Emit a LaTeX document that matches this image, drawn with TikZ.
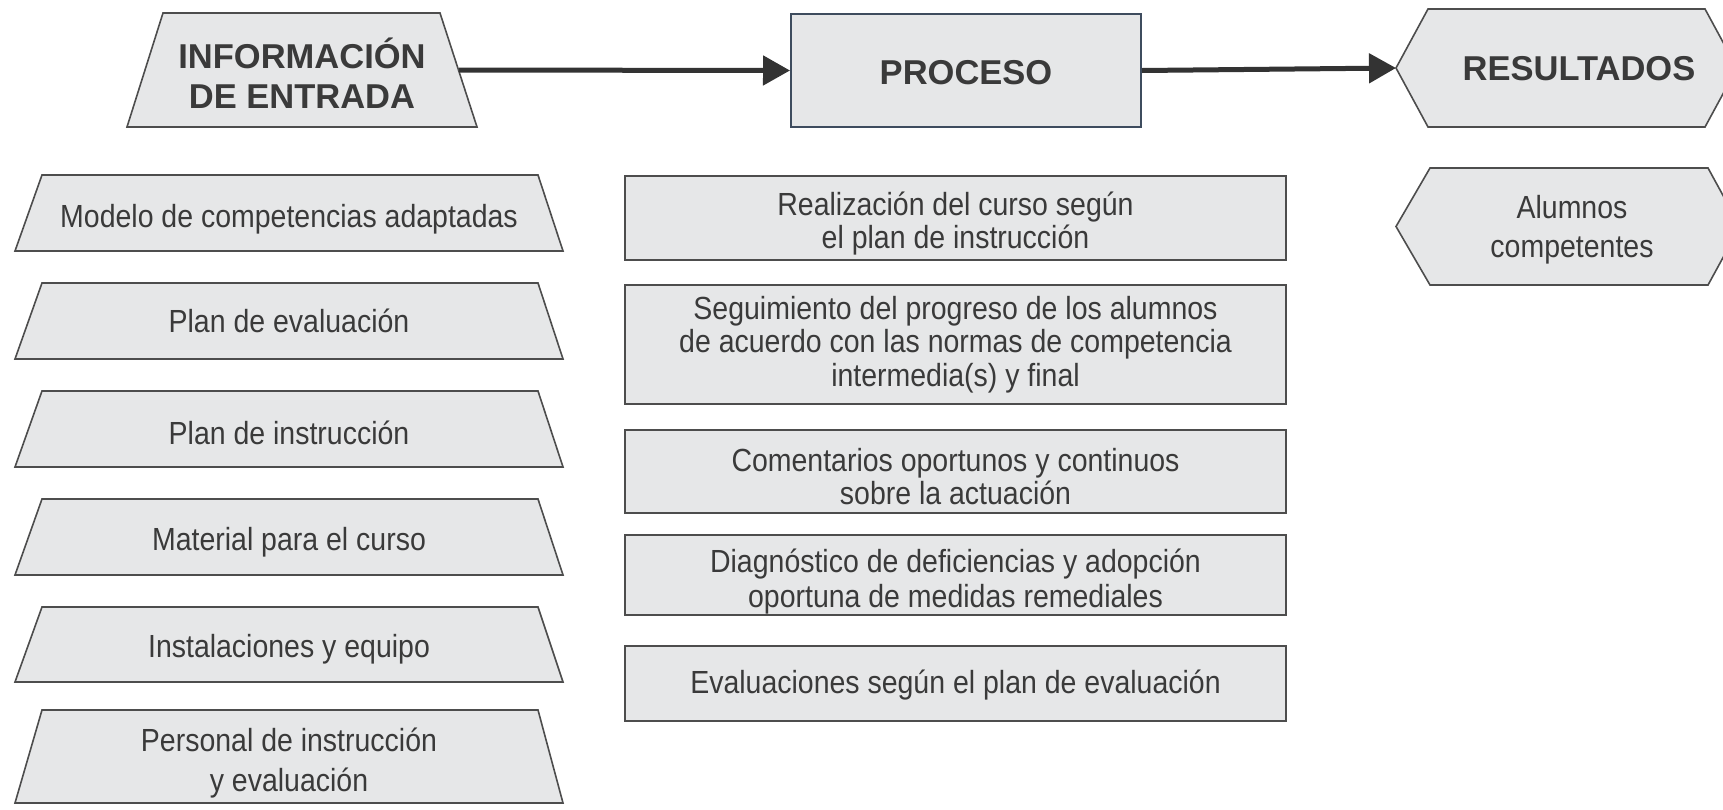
\documentclass[tikz,border=0pt]{standalone}
\usepackage{fontspec}
\setmainfont{Liberation Sans}
\newfontfamily\bodyfont[FakeStretch=0.89]{Liberation Sans}
\usetikzlibrary{arrows.meta,backgrounds}
\definecolor{boxfill}{HTML}{E6E7E8}
\definecolor{edgegray}{HTML}{4D4D4D}
\definecolor{txtgray}{HTML}{3A3A3A}
\definecolor{procedge}{HTML}{3E4C5E}
\definecolor{arrowgray}{HTML}{333333}
\begin{document}
\begin{tikzpicture}[x=1pt,y=-1pt,
  frame/.style={draw=none,inner sep=0pt,outer sep=0pt},
  hdrtext/.style={font=\fontsize{34.5}{40}\selectfont\bfseries, text=txtgray, align=center, inner sep=0pt},
  bodytext/.style={font=\bodyfont\fontsize{32}{33.5}\selectfont, text=txtgray, align=center, inner sep=0pt},
  shapeline/.style={fill=boxfill, draw=edgegray, line width=1.6pt, line join=miter},
  leftbox/.style={frame, minimum width=548pt},
  midbox/.style={fill=boxfill, draw=edgegray, line width=1.6pt, inner sep=0pt, minimum width=661pt},
  flow/.style={draw=arrowgray, line width=5pt, -{Triangle[length=27pt,width=29pt]}}
]
\useasboundingbox (0,0) rectangle (1723,809);
\clip (0,0) rectangle (1723,809);

% headers (shapes)
\node[frame, minimum width=350pt, minimum height=114pt] (info) at (302,70) {};
\node[fill=boxfill, draw=procedge, line width=2pt, inner sep=0pt, minimum width=350pt, minimum height=113pt] (proc) at (966,70.5) {};
\node[frame, minimum width=366pt, minimum height=118pt] (res) at (1579,68) {};

% left column (shapes)
\node[leftbox, minimum height=76pt] (l1) at (289,213) {};
\node[leftbox, minimum height=76pt] (l2) at (289,321) {};
\node[leftbox, minimum height=76pt] (l3) at (289,429) {};
\node[leftbox, minimum height=76pt] (l4) at (289,537) {};
\node[leftbox, minimum height=75pt] (l5) at (289,644.5) {};
\node[leftbox, minimum height=93pt] (l6) at (289,756.5) {};

% middle column (shapes)
\node[midbox, minimum height=84pt] (m1) at (955.5,218) {};
\node[midbox, minimum height=119pt] (m2) at (955.5,344.5) {};
\node[midbox, minimum height=83pt] (m3) at (955.5,471.5) {};
\node[midbox, minimum height=80pt] (m4) at (955.5,575) {};
\node[midbox, minimum height=75pt] (m5) at (955.5,683.5) {};

% right column (shape)
\node[frame, minimum width=352pt, minimum height=117pt] (alum) at (1572,226.5) {};

\begin{scope}[on background layer]
  \draw[shapeline] ([xshift=36pt]info.north west) -- ([xshift=-37pt]info.north east)
        -- (info.south east) -- (info.south west) -- cycle;
  \foreach \n in {l1,l2,l3,l4,l5,l6}{
    \draw[shapeline] ([xshift=27pt]\n.north west) -- ([xshift=-25pt]\n.north east)
        -- (\n.south east) -- (\n.south west) -- cycle;
  }
  \draw[shapeline] (res.west) -- ([xshift=32pt]res.north west) -- ([xshift=309pt]res.north west)
        -- ([xshift=341pt]res.west) -- ([xshift=309pt]res.south west) -- ([xshift=32pt]res.south west) -- cycle;
  \draw[shapeline] (alum.west) -- ([xshift=34pt]alum.north west) -- ([xshift=312pt]alum.north west)
        -- ([xshift=344pt]alum.west) -- ([xshift=312pt]alum.south west) -- ([xshift=34pt]alum.south west) -- cycle;
\end{scope}

% texts
\node[hdrtext, yshift=-3pt] (infot) at (info) {INFORMACIÓN\\DE ENTRADA};
\node[hdrtext, yshift=-2pt] (proct) at (proc) {PROCESO};
\node[hdrtext, yshift=-1pt] (rest) at (res) {RESULTADOS};

\node[bodytext, yshift=-6.5pt] (l1t) at (l1) {Modelo de competencias adaptadas};
\node[bodytext, yshift=0pt] (l2t) at (l2) {Plan de evaluación};
\node[bodytext, yshift=-3.5pt] (l3t) at (l3) {Plan de instrucción};
\node[bodytext, yshift=-5.5pt] (l4t) at (l4) {Material para el curso};
\node[bodytext, yshift=-4.5pt] (l5t) at (l5) {Instalaciones y equipo};
\node[bodytext, font=\bodyfont\fontsize{32}{40}\selectfont, yshift=-6.5pt] (l6t) at (l6) {Personal de instrucción\\y evaluación};

\node[bodytext, yshift=-5.5pt] (m1t) at (m1) {Realización del curso según\\el plan de instrucción};
\node[bodytext, yshift=0pt] (m2t) at (m2) {Seguimiento del progreso de los alumnos\\de acuerdo con las normas de competencia\\intermedia(s) y final};
\node[bodytext, yshift=-5pt] (m3t) at (m3) {Comentarios oportunos y continuos\\sobre la actuación};
\node[bodytext, font=\bodyfont\fontsize{32}{35}\selectfont, yshift=-6.5pt] (m4t) at (m4) {Diagnóstico de deficiencias y adopción\\oportuna de medidas remediales};
\node[bodytext, yshift=-2pt] (m5t) at (m5) {Evaluaciones según el plan de evaluación};

\node[bodytext, font=\bodyfont\fontsize{32}{39.5}\selectfont, yshift=-3pt] (alumt) at (alum) {Alumnos\\competentes};

% connectors
\draw[flow] ([xshift=-18pt]info.east) -- (proc.west);
\draw[flow] (proc.east) -- (res.west);
\end{tikzpicture}
\end{document}
